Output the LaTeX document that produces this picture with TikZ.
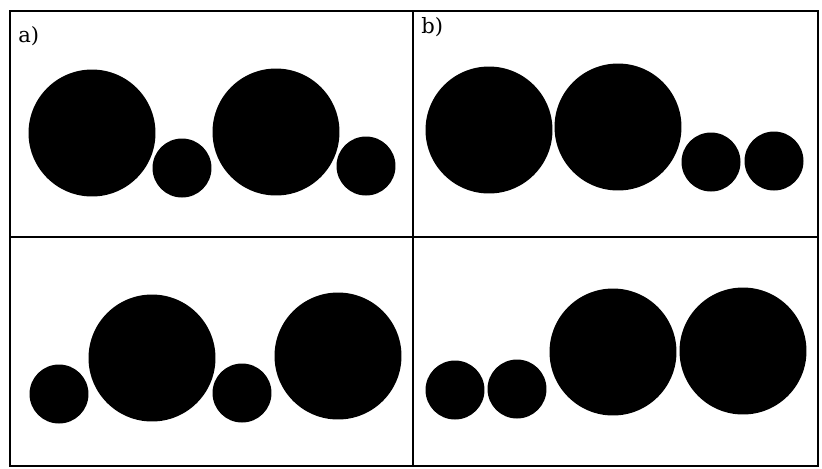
\documentclass[tikz,border=0pt]{standalone}
\usepackage{fontspec}
\newfontfamily\tagfont{DejaVu Serif}
\usetikzlibrary{positioning}
\tikzset{
  bigdisk/.style={
    shape = circle,
    fill,
    inner sep = 0pt,
    minimum size = 2.54cm
  },
  smalldisk/.style={
    shape = circle,
    fill,
    inner sep = 0pt,
    minimum size = 1.18cm
  },
  frame/.style={
    line width = 0.9pt
  },
  tag/.style={
    anchor = base west,
    inner sep = 0pt,
    font = \tagfont\fontsize{12}{14}\selectfont
  }
}
\begin{document}
\begin{tikzpicture}[x=0.02cm,y=-0.02cm]
  \useasboundingbox (0,0) rectangle (822,468);
  % the four panels
  \draw[frame] (10,11) rectangle (818,466);
  \draw[frame] (413,11) -- (413,466);
  \draw[frame] (10,237) -- (818,237);
  \node[tag] (ta) at (18,42) {a)};
  \node[tag] (tb) at (421,33) {b)};
  % a) top left
  \foreach \x/\y [count=\i] in {92/133,276/132}{
    \node[bigdisk] (ab\i) at (\x,\y) {};
  }
  \foreach \x/\y [count=\i] in {182/168,366/166}{
    \node[smalldisk] (as\i) at (\x,\y) {};
  }
  % b) top right
  \foreach \x/\y [count=\i] in {489/130,618/127}{
    \node[bigdisk] (bb\i) at (\x,\y) {};
  }
  \foreach \x/\y [count=\i] in {711/162,774/161}{
    \node[smalldisk] (bs\i) at (\x,\y) {};
  }
  % bottom left
  \foreach \x/\y [count=\i] in {152/358,338/356}{
    \node[bigdisk] (cb\i) at (\x,\y) {};
  }
  \foreach \x/\y [count=\i] in {59/394,242/393}{
    \node[smalldisk] (cs\i) at (\x,\y) {};
  }
  % bottom right
  \foreach \x/\y [count=\i] in {613/352,743/351}{
    \node[bigdisk] (db\i) at (\x,\y) {};
  }
  \foreach \x/\y [count=\i] in {455/390,517/389}{
    \node[smalldisk] (ds\i) at (\x,\y) {};
  }
\end{tikzpicture}
\end{document}
